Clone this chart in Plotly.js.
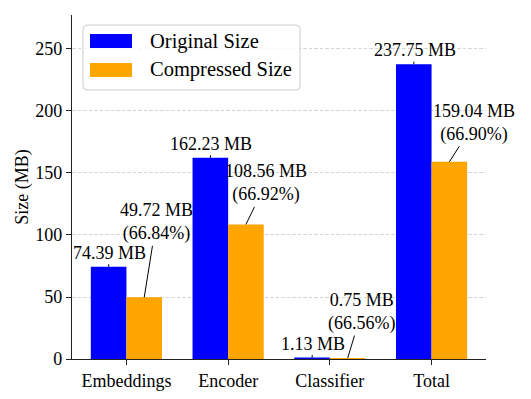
<!DOCTYPE html>
<html>
<head>
<meta charset="utf-8">
<script src="https://cdn.plot.ly/plotly-3.0.1.min.js"></script>
<style>
  html, body { margin: 0; padding: 0; background: #fff; }
  #chart { width: 531px; height: 399px; }
</style>
</head>
<body>
<div id="chart"></div>
<script>
var categories = ["Embeddings", "Encoder", "Classifier", "Total"];
var originalSize = [74.39, 162.23, 1.13, 237.75];
var compressedSize = [49.72, 108.56, 0.75, 159.04];
var compressedPct = [66.84, 66.92, 66.56, 66.90];

var font = "'Liberation Serif', 'Times New Roman', Times, serif";
var blue = "#0000ff";
var orange = "#ffa500";

// plot area in pixels (matches the margins below)
var L = 72, R = 486, T = 15, B = 359;
function px(x) { return (x - L) / (R - L); }
function py(y) { return (B - y) / (B - T); }

var xs = categories.map(function (c, i) { return i; });

var origTrace = {
  x: xs,
  y: originalSize,
  type: "bar",
  name: "Original Size",
  marker: { color: blue },
  showlegend: false
};
var compTrace = {
  x: xs,
  y: compressedSize,
  type: "bar",
  name: "Compressed Size",
  marker: { color: orange },
  showlegend: false
};

// label offsets for the compressed bars (text centre relative to bar top, px)
var compOffsets = [[12, -75], [20, -41], [14, -46], [25, -39]];

var annotations = [];
originalSize.forEach(function (v, i) {
  annotations.push({
    x: i - 0.175, y: v, xref: "x", yref: "y",
    text: v.toFixed(2) + " MB",
    showarrow: true, arrowhead: 0, arrowwidth: 1, arrowcolor: "#000",
    ax: 1, ay: -14, standoff: 0,
    font: { family: font, size: 18, color: "#000" }
  });
});
compressedSize.forEach(function (v, i) {
  annotations.push({
    x: i + 0.175, y: v, xref: "x", yref: "y",
    text: v.toFixed(2) + " MB<br>(" + compressedPct[i].toFixed(2) + "%)",
    showarrow: true, arrowhead: 0, arrowwidth: 1, arrowcolor: "#000",
    ax: compOffsets[i][0], ay: compOffsets[i][1], standoff: 0,
    font: { family: font, size: 18, color: "#000" }
  });
});

// hand-made legend to get the wide matplotlib-style swatches
var legendItems = [["Original Size", blue, 41], ["Compressed Size", orange, 70]];
var r = 4;
var bx0 = 83, bx1 = 300, by0 = 25, by1 = 90;
var rx = r / (R - L), ry = r / (B - T);
var boxPath = "M" + (px(bx0) + rx) + "," + py(by0) +
  " L" + (px(bx1) - rx) + "," + py(by0) +
  " Q" + px(bx1) + "," + py(by0) + " " + px(bx1) + "," + (py(by0) - ry) +
  " L" + px(bx1) + "," + (py(by1) + ry) +
  " Q" + px(bx1) + "," + py(by1) + " " + (px(bx1) - rx) + "," + py(by1) +
  " L" + (px(bx0) + rx) + "," + py(by1) +
  " Q" + px(bx0) + "," + py(by1) + " " + px(bx0) + "," + (py(by1) + ry) +
  " L" + px(bx0) + "," + (py(by0) - ry) +
  " Q" + px(bx0) + "," + py(by0) + " " + (px(bx0) + rx) + "," + py(by0) + " Z";

var shapes = [{
  type: "path", xref: "paper", yref: "paper", path: boxPath,
  fillcolor: "rgba(255,255,255,0.8)", line: { color: "#cccccc", width: 1 },
  layer: "above"
}];
legendItems.forEach(function (it) {
  shapes.push({
    type: "rect", xref: "paper", yref: "paper",
    x0: px(90), x1: px(132), y0: py(it[2] + 7), y1: py(it[2] - 7),
    fillcolor: it[1], line: { width: 0 }, layer: "above"
  });
  annotations.push({
    xref: "paper", yref: "paper", x: px(148), y: py(it[2]),
    xanchor: "left", yanchor: "middle", showarrow: false,
    text: it[0], font: { family: font, size: 20.5, color: "#000" }
  });
});

var layout = {
  width: 531,
  height: 399,
  margin: { l: L, r: 531 - R, t: T, b: 399 - B },
  paper_bgcolor: "#fff",
  plot_bgcolor: "#fff",
  font: { family: font, size: 18, color: "#000" },
  barmode: "group",
  bargap: 0.3,
  bargroupgap: 0,
  xaxis: {
    tickmode: "array",
    tickvals: xs,
    ticktext: categories,
    range: [-0.535, 3.535],
    showgrid: false,
    zeroline: false,
    showline: true,
    linecolor: "#222",
    linewidth: 1.2,
    ticks: "outside",
    ticklen: 5,
    tickcolor: "#222",
    tickfont: { family: font, size: 18, color: "#000" }
  },
  yaxis: {
    title: { text: "Size (MB)", font: { family: font, size: 18, color: "#000" }, standoff: 2 },
    range: [0, 277.4],
    tickvals: [0, 50, 100, 150, 200, 250],
    showgrid: true,
    gridcolor: "#cccccc",
    gridwidth: 0.8,
    griddash: "3.5px,2px",
    zeroline: false,
    showline: true,
    linecolor: "#222",
    linewidth: 1.2,
    ticks: "outside",
    ticklen: 5,
    tickcolor: "#222",
    tickfont: { family: font, size: 18, color: "#000" }
  },
  annotations: annotations,
  shapes: shapes
};

Plotly.newPlot("chart", [origTrace, compTrace], layout, { displayModeBar: false, staticPlot: true });
</script>
</body>
</html>
